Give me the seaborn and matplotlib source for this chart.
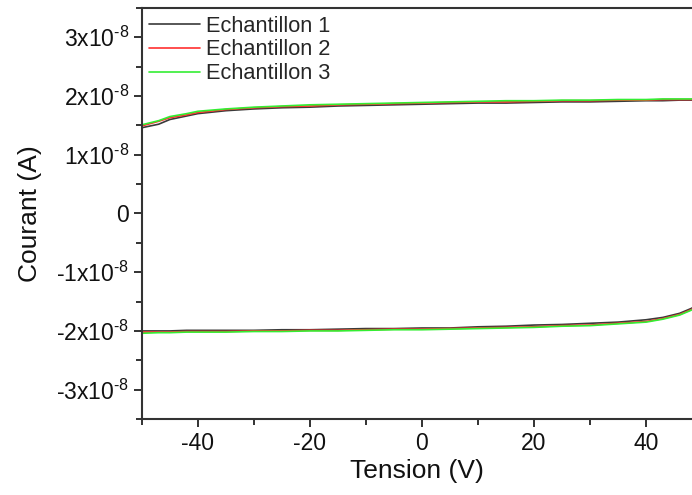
import matplotlib
matplotlib.use("Agg")
import matplotlib.pyplot as plt
import seaborn as sns
import pandas as pd
from matplotlib.ticker import FuncFormatter, MultipleLocator

# Voltage grid (V) shared by all sweeps
voltage = [-50, -47, -45, -42, -40, -35, -30, -25, -20, -15, -10, -5, 0,
           5, 10, 15, 20, 25, 30, 35, 40, 43, 46, 48, 50]

# Currents in units of 1e-8 A
lower_1 = [-2.00, -2.00, -2.00, -1.99, -1.99, -1.99, -1.99, -1.98, -1.98, -1.97, -1.96, -1.96, -1.95,
           -1.95, -1.93, -1.92, -1.90, -1.89, -1.87, -1.85, -1.81, -1.77, -1.70, -1.62, -1.52]
lower_2 = [-2.02, -2.02, -2.02, -2.01, -2.01, -2.01, -2.00, -2.00, -1.99, -1.99, -1.98, -1.97, -1.97,
           -1.96, -1.95, -1.94, -1.93, -1.91, -1.90, -1.87, -1.84, -1.79, -1.72, -1.64, -1.54]
lower_3 = [-2.04, -2.03, -2.03, -2.02, -2.02, -2.02, -2.01, -2.01, -2.00, -2.00, -1.99, -1.98, -1.98,
           -1.97, -1.96, -1.95, -1.94, -1.92, -1.91, -1.88, -1.85, -1.80, -1.73, -1.65, -1.55]

upper_1 = [1.46, 1.52, 1.60, 1.66, 1.70, 1.75, 1.78, 1.80, 1.81, 1.83, 1.84, 1.85, 1.86,
           1.87, 1.88, 1.88, 1.89, 1.90, 1.90, 1.91, 1.92, 1.92, 1.93, 1.93, 1.94]
upper_2 = [1.49, 1.57, 1.63, 1.68, 1.72, 1.77, 1.80, 1.82, 1.83, 1.85, 1.86, 1.87, 1.88,
           1.89, 1.90, 1.90, 1.91, 1.92, 1.92, 1.93, 1.93, 1.94, 1.94, 1.94, 1.95]
upper_3 = [1.51, 1.58, 1.65, 1.70, 1.74, 1.78, 1.81, 1.83, 1.85, 1.86, 1.87, 1.88, 1.89,
           1.90, 1.91, 1.92, 1.92, 1.93, 1.93, 1.94, 1.94, 1.95, 1.95, 1.95, 1.96]

series_names = ["Echantillon 1", "Echantillon 2", "Echantillon 3"]
colors = ["#3a3a3a", "#ff3030", "#33ee33"]

rows = []
for name, lo, up in zip(series_names, [lower_1, lower_2, lower_3], [upper_1, upper_2, upper_3]):
    xs = list(voltage) + list(reversed(voltage)) + [voltage[0]]
    ys = list(lo) + list(reversed(up)) + [lo[0]]
    for x, y in zip(xs, ys):
        rows.append({"Tension": x, "Courant": y * 1e-8, "Sample": name})
df = pd.DataFrame(rows)

sns.set_theme(style="ticks")
plt.rcParams["font.family"] = ["Liberation Sans", "DejaVu Sans"]
plt.rcParams["axes.unicode_minus"] = False
plt.rcParams["mathtext.default"] = "regular"

fig = plt.figure(figsize=(6.92, 4.95), dpi=100)
ax = fig.add_axes([0.205, 0.1535, 0.795, 0.8305])

sns.lineplot(data=df, x="Tension", y="Courant", hue="Sample", palette=colors,
             sort=False, estimator=None, linewidth=1.2, ax=ax)

ax.set_xlim(-50, 48.2)
ax.set_ylim(-3.5e-8, 3.5e-8)
ax.xaxis.set_major_locator(MultipleLocator(20))
ax.xaxis.set_minor_locator(MultipleLocator(10))
ax.yaxis.set_major_locator(MultipleLocator(1e-8))
ax.yaxis.set_minor_locator(MultipleLocator(0.5e-8))


def yfmt(v, pos):
    n = int(round(v / 1e-8))
    if n == 0:
        return "0"
    return "%dx10$^{\u2010" % n + "8}$"


def xfmt(v, pos):
    return "%d" % int(round(v))


ax.yaxis.set_major_formatter(FuncFormatter(yfmt))
ax.xaxis.set_major_formatter(FuncFormatter(xfmt))
ax.tick_params(axis="both", which="major", direction="out", length=6, width=1.3,
               labelsize=16.5, color="#222222", labelcolor="#111111")
ax.tick_params(axis="y", which="major", pad=3)
ax.tick_params(axis="both", which="minor", direction="out", length=4, width=1.3, color="#222222")

for side in ["left", "bottom", "top"]:
    ax.spines[side].set_linewidth(1.5)
    ax.spines[side].set_color("#333333")
ax.spines["right"].set_visible(False)

ax.set_xlabel("Tension (V)", fontsize=19, color="#111111", labelpad=3)
ax.set_ylabel("Courant (A)", fontsize=19, color="#111111", labelpad=10)

handles, labels = ax.get_legend_handles_labels()
ax.legend(handles, labels, loc="upper left", frameon=False, fontsize=15.7,
          handlelength=2.3, handletextpad=0.3, labelspacing=0.13,
          borderaxespad=0.0, borderpad=0.35, bbox_to_anchor=(0.0, 1.0))

fig.savefig("out.png", dpi=100)
